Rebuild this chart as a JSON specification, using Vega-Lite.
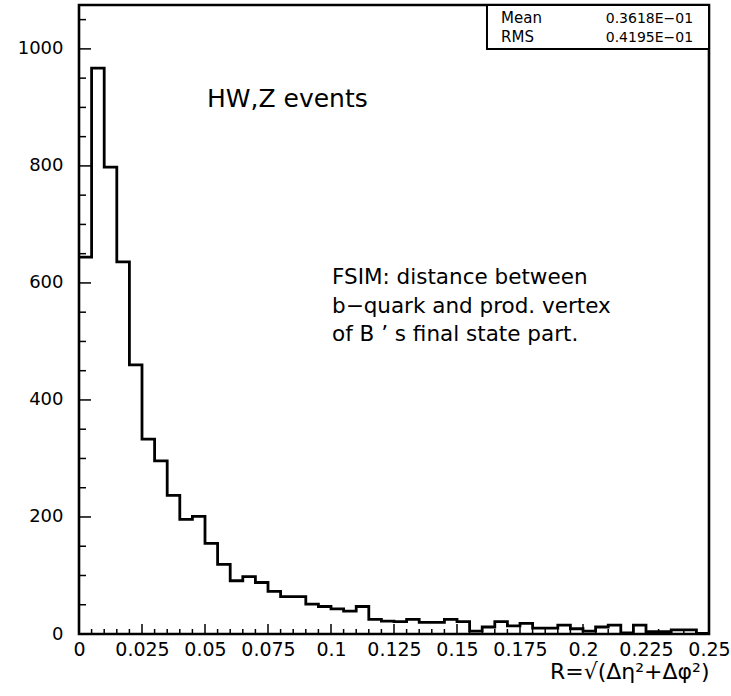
{
  "$schema": "https://vega.github.io/schema/vega-lite/v6.json",
  "width": 630,
  "height": 629,
  "autosize": {"type": "none"},
  "padding": {"left": 79, "top": 5, "right": 22, "bottom": 62},
  "background": "white",
  "config": {
    "font": "DejaVu Sans",
    "view": {"stroke": "#000", "strokeWidth": 2.6},
    "axis": {"grid": false, "domain": false, "ticks": false, "labelColor": "#000", "titleColor": "#000", "labelFont": "DejaVu Sans", "titleFont": "DejaVu Sans", "labelFlush": false, "labelOverlap": false, "labelBound": false}
  },
  "datasets": {
    "hist": [
      {"lo": 0, "hi": 0.005, "n": 644},
      {"lo": 0.005, "hi": 0.01, "n": 967},
      {"lo": 0.01, "hi": 0.015, "n": 798},
      {"lo": 0.015, "hi": 0.02, "n": 636},
      {"lo": 0.02, "hi": 0.025, "n": 460},
      {"lo": 0.025, "hi": 0.03, "n": 333},
      {"lo": 0.03, "hi": 0.035, "n": 296},
      {"lo": 0.035, "hi": 0.04, "n": 237},
      {"lo": 0.04, "hi": 0.045, "n": 196},
      {"lo": 0.045, "hi": 0.05, "n": 201},
      {"lo": 0.05, "hi": 0.055, "n": 155},
      {"lo": 0.055, "hi": 0.06, "n": 119},
      {"lo": 0.06, "hi": 0.065, "n": 91},
      {"lo": 0.065, "hi": 0.07, "n": 98},
      {"lo": 0.07, "hi": 0.075, "n": 88},
      {"lo": 0.075, "hi": 0.08, "n": 73},
      {"lo": 0.08, "hi": 0.085, "n": 64},
      {"lo": 0.085, "hi": 0.09, "n": 64},
      {"lo": 0.09, "hi": 0.095, "n": 51},
      {"lo": 0.095, "hi": 0.1, "n": 47},
      {"lo": 0.1, "hi": 0.105, "n": 43},
      {"lo": 0.105, "hi": 0.11, "n": 39},
      {"lo": 0.11, "hi": 0.115, "n": 47},
      {"lo": 0.115, "hi": 0.12, "n": 25},
      {"lo": 0.12, "hi": 0.125, "n": 22},
      {"lo": 0.125, "hi": 0.13, "n": 21},
      {"lo": 0.13, "hi": 0.135, "n": 25},
      {"lo": 0.135, "hi": 0.14, "n": 20},
      {"lo": 0.14, "hi": 0.145, "n": 20},
      {"lo": 0.145, "hi": 0.15, "n": 25},
      {"lo": 0.15, "hi": 0.155, "n": 21},
      {"lo": 0.155, "hi": 0.16, "n": 5},
      {"lo": 0.16, "hi": 0.165, "n": 12},
      {"lo": 0.165, "hi": 0.17, "n": 21},
      {"lo": 0.17, "hi": 0.175, "n": 14},
      {"lo": 0.175, "hi": 0.18, "n": 18},
      {"lo": 0.18, "hi": 0.185, "n": 10},
      {"lo": 0.185, "hi": 0.19, "n": 10},
      {"lo": 0.19, "hi": 0.195, "n": 15},
      {"lo": 0.195, "hi": 0.2, "n": 9},
      {"lo": 0.2, "hi": 0.205, "n": 5},
      {"lo": 0.205, "hi": 0.21, "n": 12},
      {"lo": 0.21, "hi": 0.215, "n": 15},
      {"lo": 0.215, "hi": 0.22, "n": 2},
      {"lo": 0.22, "hi": 0.225, "n": 15},
      {"lo": 0.225, "hi": 0.23, "n": 4},
      {"lo": 0.23, "hi": 0.235, "n": 4},
      {"lo": 0.235, "hi": 0.24, "n": 7},
      {"lo": 0.24, "hi": 0.245, "n": 7},
      {"lo": 0.245, "hi": 0.25, "n": 1}
    ],
    "xmajor": [{"v": 0}, {"v": 0.025}, {"v": 0.05}, {"v": 0.075}, {"v": 0.1}, {"v": 0.125}, {"v": 0.15}, {"v": 0.175}, {"v": 0.2}, {"v": 0.225}, {"v": 0.25}],
    "xminor": [{"v": 0.005}, {"v": 0.01}, {"v": 0.015}, {"v": 0.02}, {"v": 0.03}, {"v": 0.035}, {"v": 0.04}, {"v": 0.045}, {"v": 0.055}, {"v": 0.06}, {"v": 0.065}, {"v": 0.07}, {"v": 0.08}, {"v": 0.085}, {"v": 0.09}, {"v": 0.095}, {"v": 0.105}, {"v": 0.11}, {"v": 0.115}, {"v": 0.12}, {"v": 0.13}, {"v": 0.135}, {"v": 0.14}, {"v": 0.145}, {"v": 0.155}, {"v": 0.16}, {"v": 0.165}, {"v": 0.17}, {"v": 0.18}, {"v": 0.185}, {"v": 0.19}, {"v": 0.195}, {"v": 0.205}, {"v": 0.21}, {"v": 0.215}, {"v": 0.22}, {"v": 0.23}, {"v": 0.235}, {"v": 0.24}, {"v": 0.245}],
    "ymajor": [{"v": 0}, {"v": 200}, {"v": 400}, {"v": 600}, {"v": 800}, {"v": 1000}],
    "yminor": [{"v": 50}, {"v": 100}, {"v": 150}, {"v": 250}, {"v": 300}, {"v": 350}, {"v": 450}, {"v": 500}, {"v": 550}, {"v": 650}, {"v": 700}, {"v": 750}, {"v": 850}, {"v": 900}, {"v": 950}, {"v": 1050}],
    "notes": [
      {"x": 0.0508, "y": 901, "label": "HW,Z events", "kind": "big"},
      {"x": 0.1004, "y": 598, "label": "FSIM: distance between", "kind": "mid"},
      {"x": 0.1004, "y": 548, "label": "b\u2212quark and prod. vertex", "kind": "mid"},
      {"x": 0.1004, "y": 501, "label": "of B \u2019 s final state part.", "kind": "mid"}
    ],
    "statbox": [{"x1": 0.1619, "x2": 0.25, "y1": 1000, "y2": 1075}],
    "stats": [
      {"name": "Mean", "value": "0.3618E\u221201", "y": 1045},
      {"name": "RMS", "value": "0.4195E\u221201", "y": 1011}
    ]
  },
  "layer": [
    {
      "data": {"name": "hist"},
      "transform": [{"fold": ["lo", "hi"], "as": ["edge", "x"]}],
      "mark": {"type": "line", "color": "#000", "strokeWidth": 2.8, "strokeJoin": "miter", "clip": true},
      "encoding": {
        "x": {"field": "x", "type": "quantitative", "scale": {"domain": [0, 0.25], "nice": false, "zero": false},
          "axis": {"values": [0, 0.025, 0.05, 0.075, 0.1, 0.125, 0.15, 0.175, 0.2, 0.225, 0.25], "format": ".3~f", "labelFontSize": 19, "labelPadding": 6, "title": "R=\u221a(\u0394\u03b7\u00b2+\u0394\u03c6\u00b2)", "titleFontSize": 22, "titleFontWeight": "normal", "titleAnchor": "end", "titlePadding": 2}},
        "y": {"field": "n", "type": "quantitative", "scale": {"domain": [0, 1075], "nice": false},
          "axis": {"values": [0, 200, 400, 600, 800, 1000], "format": "d", "labelFontSize": 18, "labelPadding": 16, "title": null}},
        "order": [{"field": "x", "type": "quantitative", "sort": "ascending"}, {"field": "edge", "type": "nominal", "sort": "ascending"}]
      }
    },
    {
      "data": {"name": "xmajor"},
      "mark": {"type": "tick", "orient": "vertical", "color": "#000", "size": 20, "thickness": 1.5, "clip": true, "opacity": 1},
      "encoding": {"x": {"field": "v", "type": "quantitative"}, "y": {"datum": 0, "type": "quantitative"}}
    },
    {
      "data": {"name": "xminor"},
      "mark": {"type": "tick", "orient": "vertical", "color": "#000", "size": 10, "thickness": 1.5, "clip": true, "opacity": 1},
      "encoding": {"x": {"field": "v", "type": "quantitative"}, "y": {"datum": 0, "type": "quantitative"}}
    },
    {
      "data": {"name": "ymajor"},
      "mark": {"type": "tick", "orient": "horizontal", "color": "#000", "size": 24, "thickness": 1.5, "clip": true, "opacity": 1},
      "encoding": {"y": {"field": "v", "type": "quantitative"}, "x": {"datum": 0, "type": "quantitative"}}
    },
    {
      "data": {"name": "yminor"},
      "mark": {"type": "tick", "orient": "horizontal", "color": "#000", "size": 14, "thickness": 1.5, "clip": true, "opacity": 1},
      "encoding": {"y": {"field": "v", "type": "quantitative"}, "x": {"datum": 0, "type": "quantitative"}}
    },
    {
      "data": {"name": "statbox"},
      "mark": {"type": "rect", "fill": "white", "stroke": "#000", "strokeWidth": 2, "clip": true},
      "encoding": {"x": {"field": "x1", "type": "quantitative"}, "x2": {"field": "x2"}, "y": {"field": "y1", "type": "quantitative"}, "y2": {"field": "y2"}}
    },
    {
      "data": {"name": "stats"},
      "mark": {"type": "text", "align": "left", "baseline": "alphabetic", "fontSize": 15, "color": "#000"},
      "encoding": {"x": {"datum": 0.1675, "type": "quantitative"}, "y": {"field": "y", "type": "quantitative"}, "text": {"field": "name"}}
    },
    {
      "data": {"name": "stats"},
      "mark": {"type": "text", "align": "right", "baseline": "alphabetic", "fontSize": 14, "color": "#000"},
      "encoding": {"x": {"datum": 0.2437, "type": "quantitative"}, "y": {"field": "y", "type": "quantitative"}, "text": {"field": "value"}}
    },
    {
      "data": {"name": "notes"},
      "transform": [{"filter": "datum.kind == 'big'"}],
      "mark": {"type": "text", "align": "left", "baseline": "alphabetic", "fontSize": 25, "color": "#000"},
      "encoding": {"x": {"field": "x", "type": "quantitative"}, "y": {"field": "y", "type": "quantitative"}, "text": {"field": "label"}}
    },
    {
      "data": {"name": "notes"},
      "transform": [{"filter": "datum.kind == 'mid'"}],
      "mark": {"type": "text", "align": "left", "baseline": "alphabetic", "fontSize": 21.5, "color": "#000"},
      "encoding": {"x": {"field": "x", "type": "quantitative"}, "y": {"field": "y", "type": "quantitative"}, "text": {"field": "label"}}
    }
  ]
}
